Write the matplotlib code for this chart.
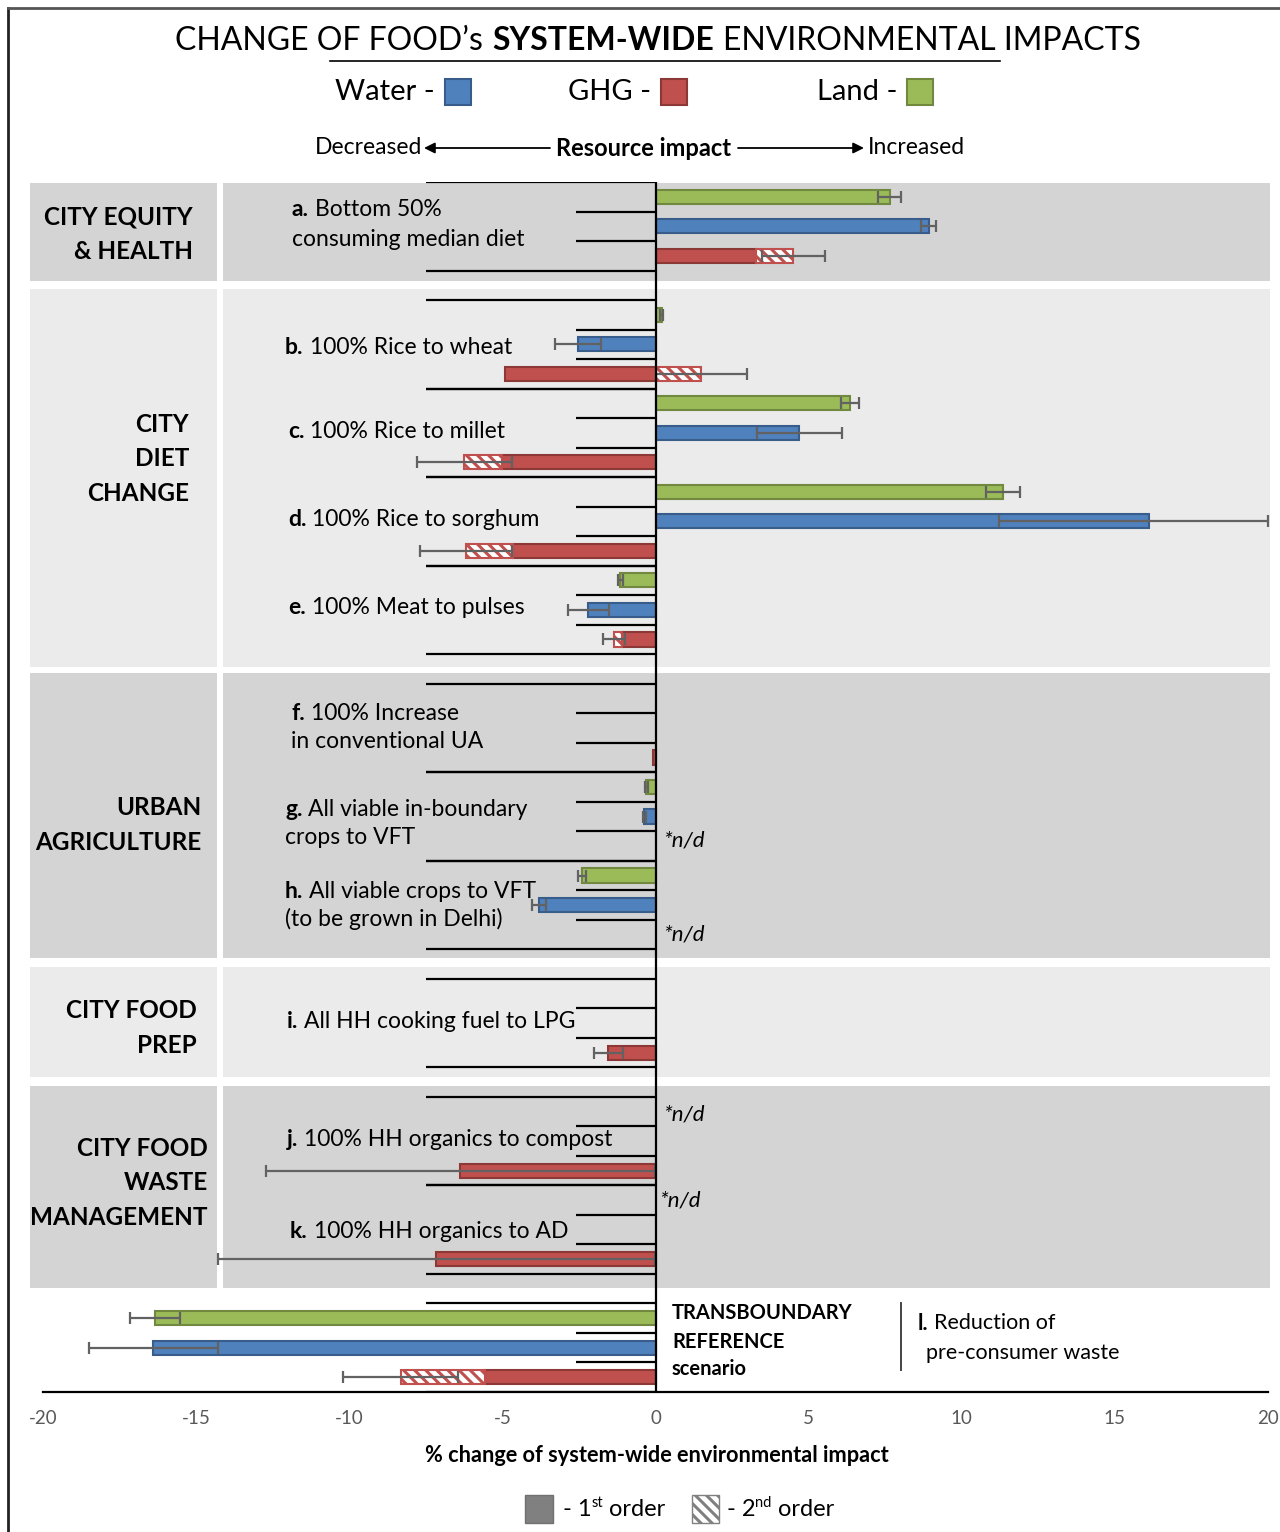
import numpy as np
import matplotlib
matplotlib.use("Agg")
import matplotlib.pyplot as plt
from matplotlib.patches import Rectangle

plt.rcParams["font.family"] = ["Lato", "DejaVu Sans"]
plt.rcParams["axes.unicode_minus"] = False
plt.rcParams["hatch.linewidth"] = 2.2

# ---------------------------------------------------------------- data
SCENARIOS = ["a", "b", "c", "d", "e", "f", "g", "h", "i", "j", "k", "l"]
GROUPS = [["a"], ["b", "c", "d", "e"], ["f", "g", "h"], ["i"], ["j", "k"], ["l"]]
GROUP_NAMES = ["CITY EQUITY\n& HEALTH", "CITY\nDIET\nCHANGE", "URBAN\nAGRICULTURE",
               "CITY FOOD\nPREP", "CITY FOOD\nWASTE\nMANAGEMENT", None]

nan = np.nan
# % change of system-wide impact: 1st order effect, 2nd order effect,
# error bar extent below / above the bar end
LAND_1ST = [7.65, 0.20, 6.35, 11.35, -1.15, nan, -0.30, -2.40, nan, nan, nan, -16.34]
LAND_ERR_LO = [0.37, 0.05, 0.30, 0.55, 0.08, 0.0, 0.05, 0.13, 0.0, 0.0, 0.0, 0.82]
LAND_ERR_HI = [0.37, 0.05, 0.30, 0.55, 0.08, 0.0, 0.05, 0.13, 0.0, 0.0, 0.0, 0.82]

WATER_1ST = [8.92, -2.52, 4.70, 16.10, -2.20, nan, -0.36, -3.80, nan, nan, nan, -16.40]
WATER_ERR_LO = [0.25, 0.75, 1.40, 4.90, 0.67, 0.0, 0.05, 0.23, 0.0, 0.0, 0.0, 2.10]
WATER_ERR_HI = [0.25, 0.75, 1.40, 3.90, 0.67, 0.0, 0.05, 0.23, 0.0, 0.0, 0.0, 2.10]

GHG_1ST = [3.27, -4.90, -5.00, -4.65, -1.10, -0.07, nan, nan, -1.54, -6.37, -7.16, -5.56]
GHG_2ND = [1.23, 1.50, -1.25, -1.55, -0.25, 0.0, nan, nan, 0.0, 0.0, 0.0, -2.76]
GHG_ERR_LO = [1.03, 1.50, 1.55, 1.50, 0.37, 0.0, nan, nan, 0.47, 6.35, 7.14, 1.88]
GHG_ERR_HI = [1.03, 1.50, 1.55, 1.50, 0.37, 0.0, nan, nan, 0.47, 6.35, 7.14, 1.88]

X_TICKS = [-20, -15, -10, -5, 0, 5, 10, 15, 20]

# ---------------------------------------------------------------- styles
BLUE, BLUE_E = "#4f81bd", "#385d8a"
RED, RED_E = "#c0504d", "#8c3836"
GREEN, GREEN_E = "#9bbb59", "#71893f"
DARK_PANEL, LIGHT_PANEL = "#d4d4d4", "#ebebeb"
ERR_C = "#626262"
BAR_H = 0.48

W, H = 1280, 1532
fig = plt.figure(figsize=(W / 100, H / 100), dpi=100)
bg = fig.add_axes([0, 0, 1, 1], zorder=0)
bg.set_xlim(0, W)
bg.set_ylim(H, 0)
bg.axis("off")

AX_L, AX_R, AX_T, AX_B = 43, 1268, 182, 1392
ax = fig.add_axes([AX_L / W, 1 - AX_B / H, (AX_R - AX_L) / W, (AX_B - AX_T) / H], zorder=1)
ax.patch.set_visible(False)

# ---------------------------------------------------------------- slot layout
slot_of = {}
slot = 0
for gi, grp in enumerate(GROUPS):
    for s in grp:
        slot_of[s] = slot
        slot += 3
    if gi < len(GROUPS) - 1:
        slot += 1  # blank separator row
n_slots = slot
ax.set_xlim(X_TICKS[0], X_TICKS[-1])
ax.set_ylim(n_slots - 0.5, -0.5)

# background panels
PANELS = [(182.7, 280.7, DARK_PANEL), (289.0, 666.7, LIGHT_PANEL), (672.7, 958.0, DARK_PANEL),
          (966.7, 1076.7, LIGHT_PANEL), (1085.7, 1288.3, DARK_PANEL)]
for y0, y1, c in PANELS:
    bg.add_patch(Rectangle((30, y0), 187, y1 - y0, fc=c, ec="none"))
    bg.add_patch(Rectangle((223, y0), 1047, y1 - y0, fc=c, ec="none"))

# frame
bg.plot([8, 8], [8, H], color="#222222", lw=2)
bg.plot([8, W], [8, 8], color="#555555", lw=2)

# category separators left of the zero line
for s in SCENARIOS:
    r0 = slot_of[s]
    ax.hlines([r0 - 0.5, r0 + 2.5], -7.5, 0, color="black", lw=1.6, zorder=2)
    ax.hlines([r0 + 0.5, r0 + 1.5], -2.6, 0, color="black", lw=1.6, zorder=2)


def draw_series(offset, first, second, err_lo, err_hi, face, edge):
    for k, s in enumerate(SCENARIOS):
        v1 = first[k]
        if np.isnan(v1):
            continue
        r = slot_of[s] + offset
        ax.barh(r, v1, height=BAR_H, color=face, edgecolor=edge, lw=1.5, zorder=3)
        end = v1
        v2 = second[k] if second is not None else 0.0
        if v2:
            left = v1 if np.sign(v2) == np.sign(v1) else 0.0
            ax.barh(r, v2, left=left, height=BAR_H, facecolor="white", edgecolor=face,
                    hatch="\\\\\\", lw=1.5, zorder=3)
            end = left + v2
        lo, hi = err_lo[k], err_hi[k]
        if lo or hi:
            ax.errorbar(end, r, xerr=[[lo], [hi]], fmt="none", ecolor=ERR_C, elinewidth=1.6,
                        capsize=4.6, capthick=1.6, zorder=4, clip_on=False)


draw_series(0, LAND_1ST, None, LAND_ERR_LO, LAND_ERR_HI, GREEN, GREEN_E)
draw_series(1, WATER_1ST, None, WATER_ERR_LO, WATER_ERR_HI, BLUE, BLUE_E)
draw_series(2, GHG_1ST, GHG_2ND, GHG_ERR_LO, GHG_ERR_HI, RED, RED_E)

ax.axvline(0, color="black", lw=1.6, zorder=5)
for side in ("top", "left", "right"):
    ax.spines[side].set_visible(False)
ax.spines["bottom"].set_linewidth(1.6)
ax.set_yticks([])
ax.set_xticks(X_TICKS)
ax.set_xticklabels([str(t) for t in X_TICKS])
ax.tick_params(axis="x", length=0, pad=13, labelsize=13.5, labelcolor="#595959")

# ---------------------------------------------------------------- text helpers
renderer = fig.canvas.get_renderer()


def runs(x, y, parts, ha="left", **common):
    objs, widths = [], []
    for p in parts:
        if isinstance(p, (int, float)):
            objs.append(None)
            widths.append(p)
            continue
        s, kw = p
        kw = dict(kw)
        dy = kw.pop("dy", 0)
        t = bg.text(0, y + dy, s, va="center", ha="left", **{**common, **kw})
        objs.append(t)
        widths.append(t.get_window_extent(renderer).width)
    cx = x - sum(widths) / 2 if ha == "center" else x
    for t, w in zip(objs, widths):
        if t is not None:
            t.set_x(cx)
        cx += w
    return cx


# title
runs(658, 41, [("CHANGE OF FOOD\u2019s", {}), 9, ("SYSTEM-WIDE", {"fontweight": "bold"}), 9,
               ("ENVIRONMENTAL IMPACTS", {})], ha="center", fontsize=23)
bg.plot([330, 1000], [61, 61], color="black", lw=1.2)

# resource legend
for label, x0, face, edge in [("Water -", 335, BLUE, BLUE_E), ("GHG -", 568, RED, RED_E),
                              ("Land -", 817, GREEN, GREEN_E)]:
    xe = runs(x0, 92, [(label, {})], fontsize=21)
    bg.add_patch(Rectangle((xe + 10, 79), 26, 26, fc=face, ec=edge, lw=1.5))

# direction line
bg.text(422, 148, "Decreased", ha="right", va="center", fontsize=16.5)
bg.text(868, 148, "Increased", ha="left", va="center", fontsize=16.5)
bg.text(644, 148, "Resource impact", ha="center", va="center", fontsize=17, fontweight="bold")
arrow = dict(arrowstyle="-|>", color="black", lw=1.3, mutation_scale=16, shrinkA=0, shrinkB=0)
bg.annotate("", xy=(424, 148), xytext=(550, 148), arrowprops=arrow)
bg.annotate("", xy=(864, 148), xytext=(738, 148), arrowprops=arrow)

# group labels
GROUP_POS = [(193, 234), (189, 459), (201, 825), (197, 1028), (208, 1183)]
for name, (gx, gy) in zip(GROUP_NAMES, GROUP_POS):
    bg.text(gx, gy, name, ha="right", va="center", multialignment="right",
            fontsize=17.5, fontweight="bold", linespacing=1.58)

# scenario labels
SCEN_LABELS = [
    (292, 210, "a.", "Bottom 50%"), (292, 239, "", "consuming median diet"),
    (285, 348, "b.", "100% Rice to wheat"),
    (288, 432, "c.", "100% Rice to millet"),
    (288, 519, "d.", "100% Rice to sorghum"),
    (288, 608, "e.", "100% Meat to pulses"),
    (291, 713, "f.", "100% Increase"), (291, 742, "", "in conventional UA"),
    (285, 809, "g.", "All viable in-boundary"), (285, 838, "", "crops to VFT"),
    (285, 892, "h.", "All viable crops to VFT"), (285, 919, "", "(to be grown in Delhi)"),
    (287, 1021, "i.", "All HH cooking fuel to LPG"),
    (287, 1139, "j.", "100% HH organics to compost"),
    (290, 1232, "k.", "100% HH organics to AD"),
]
for x0, y0, tag, txt in SCEN_LABELS:
    parts = []
    if tag:
        parts += [(tag, {"fontweight": "bold"}), 6]
    parts.append((txt, {}))
    runs(x0, y0, parts, fontsize=16.5)

for x0, y0 in [(663, 841), (663, 935), (663, 1114), (659, 1201)]:
    bg.text(x0, y0, "*n/d", ha="left", va="center", fontsize=16, style="italic")

# transboundary reference block
for yy, txt in [(1313, "TRANSBOUNDARY"), (1342, "REFERENCE"), (1369, "scenario")]:
    bg.text(672, yy, txt, ha="left", va="center", fontsize=14.5, fontweight="bold")
bg.plot([901, 901], [1303, 1370], color="#444444", lw=1.4)
runs(918, 1323, [("l.", {"fontweight": "bold"}), 6, ("Reduction of", {})], fontsize=15.5)
bg.text(926, 1353, "pre-consumer waste", ha="left", va="center", fontsize=15.5)

# axis title
bg.text(657, 1456, "% change of system-wide environmental impact", ha="center", va="center",
        fontsize=15.7, fontweight="bold")

# order legend
bg.add_patch(Rectangle((525, 1495), 28, 28, fc="#808080", ec="#707070", lw=1))
runs(563, 1509, [("- 1", {}), ("st", {"fontsize": 10.5, "dy": -6}), 6, ("order", {})], fontsize=17)
bg.add_patch(Rectangle((692, 1495), 27, 28, fc="white", ec="#808080", hatch="\\\\\\", lw=1))
runs(727, 1509, [("- 2", {}), ("nd", {"fontsize": 10.5, "dy": -6}), 6, ("order", {})], fontsize=17)

fig.savefig("out.png", dpi=100)
